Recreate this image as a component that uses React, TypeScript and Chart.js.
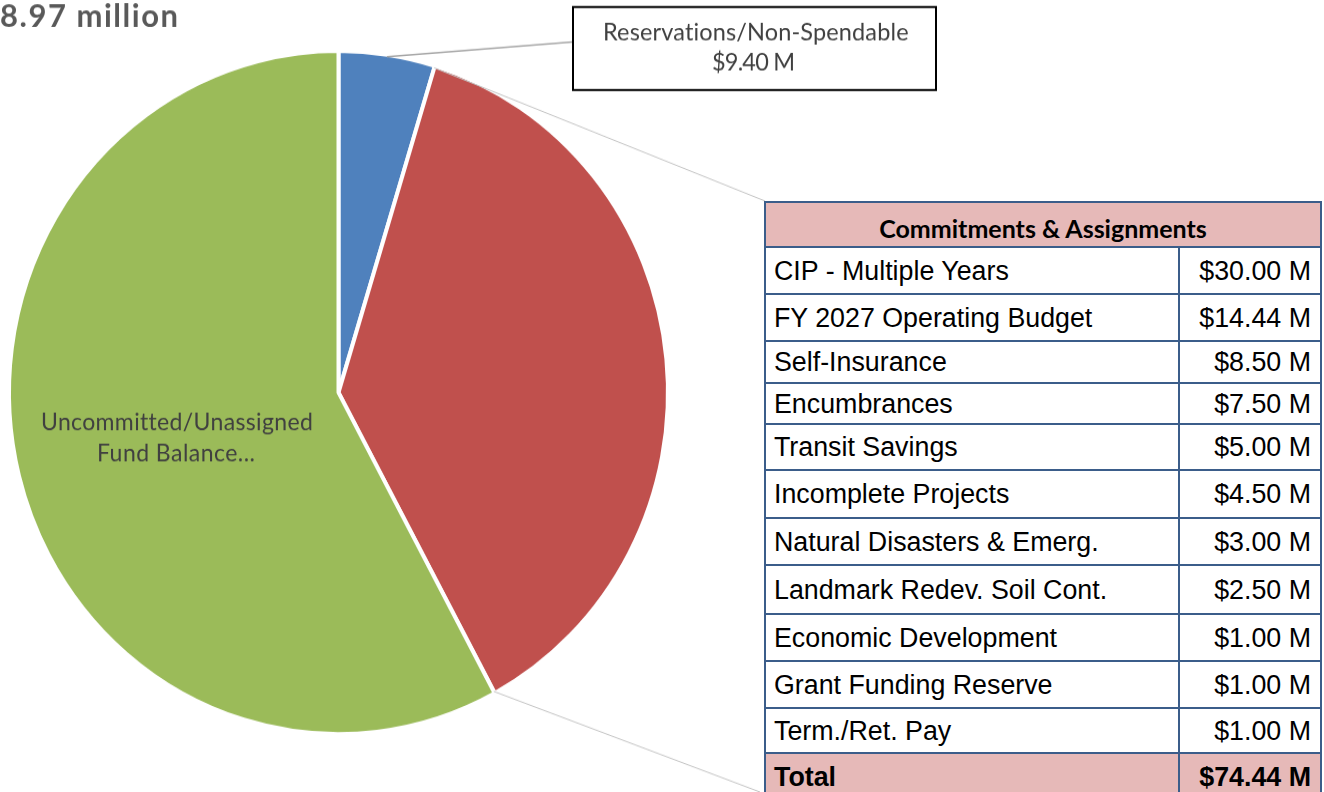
import React, { useEffect, useRef } from "react";
import { Chart, registerables } from "chart.js";

Chart.register(...registerables);

// ---------- data ----------
const sliceLabels = [
  "Reservations/Non-Spendable",
  "Commitments & Assignments",
  "Uncommitted/Unassigned Fund Balance",
];
const sliceValues = [9.4, 74.44, 115.13];
const sliceColors = ["#4F81BD", "#C0504D", "#9BBB59"];

const titleText = "8.97 million";
const reserveLabel = "Reservations/Non-Spendable";
const reserveValueText = "$9.40 M";
const greenLabelLines = ["Uncommitted/Unassigned", "Fund Balance..."];

const tableTitle = "Commitments & Assignments";
const itemNames = [
  "CIP - Multiple Years",
  "FY 2027 Operating Budget",
  "Self-Insurance",
  "Encumbrances",
  "Transit Savings",
  "Incomplete Projects",
  "Natural Disasters & Emerg.",
  "Landmark Redev. Soil Cont.",
  "Economic Development",
  "Grant Funding Reserve",
  "Term./Ret. Pay",
];
const itemValues = [30.0, 14.44, 8.5, 7.5, 5.0, 4.5, 3.0, 2.5, 1.0, 1.0, 1.0];
const totalLabel = "Total";
const totalValue = 74.44;

// ---------- layout ----------
const W = 1324;
const H_PAGE = 792;
const H_CANVAS = 764;
const SY = H_PAGE / H_CANVAS; // vertical stretch of the picture
const PIE_CX = 338.5;
const PIE_CY_PAGE = 392.5;
const PIE_R = 327.5;
const BW = 4;

const TABLE_X = 765;
const TABLE_W = 556;
const DIVIDER_X = 1178;
const ROW_EDGES = [202, 247, 294, 341, 383, 424, 470, 518, 565, 614, 661, 708, 753, 800];
const BORDER = "#3B5D8A";
const PINK = "#E6B9B8";

const fmt = (v: number) => `$${v.toFixed(2)} M`;
const cy = (pageY: number) => pageY / SY;

function drawFitted(
  ctx: CanvasRenderingContext2D,
  text: string,
  left: number,
  baselinePage: number,
  width: number,
  font: string,
  color: string
) {
  const c = ctx as any;
  ctx.font = font;
  ctx.fillStyle = color;
  ctx.textAlign = "left";
  ctx.textBaseline = "alphabetic";
  c.letterSpacing = "0px";
  const m = ctx.measureText(text).width;
  const ls = text.length > 1 ? (width - m) / (text.length - 1) : 0;
  c.letterSpacing = `${ls}px`;
  ctx.fillText(text, left, cy(baselinePage));
  c.letterSpacing = "0px";
}

const overlayPlugin = {
  id: "overlay",
  afterDraw(chart: any) {
    const ctx: CanvasRenderingContext2D = chart.ctx;
    const arcs = chart.getDatasetMeta(0).data;
    const edge = (arc: any, angle: number) => {
      const p = arc.getProps(["x", "y", "outerRadius"], true);
      const r = p.outerRadius - BW / 2;
      return [p.x + r * Math.cos(angle), p.y + r * Math.sin(angle)];
    };
    const blue = arcs[0].getProps(["startAngle", "endAngle"], true);
    const red = arcs[1].getProps(["startAngle", "endAngle"], true);

    ctx.save();
    // leader for the reservations slice
    const [bx, by] = edge(arcs[0], (blue.startAngle + blue.endAngle) / 2);
    ctx.strokeStyle = "#A6A6A6";
    ctx.lineWidth = 1.6;
    ctx.beginPath();
    ctx.moveTo(bx, by);
    ctx.lineTo(572, cy(42));
    ctx.stroke();

    // connectors from the commitments slice to the table
    ctx.strokeStyle = "#C4C4C4";
    ctx.lineWidth = 1;
    const [ax, ay] = edge(arcs[1], red.startAngle);
    const [ex, ey] = edge(arcs[1], red.endAngle);
    ctx.beginPath();
    ctx.moveTo(ax, ay);
    ctx.lineTo(TABLE_X, cy(201));
    ctx.moveTo(ex, ey);
    ctx.lineTo(TABLE_X - 5, cy(792));
    ctx.stroke();

    // callout box
    ctx.strokeStyle = "#000000";
    ctx.lineWidth = 2;
    ctx.strokeRect(573, cy(7), 363, cy(90) - cy(7));

    drawFitted(ctx, reserveLabel, 603, 40, 306, "23.5px Lato", "#404040");
    drawFitted(ctx, reserveValueText, 712, 71, 83, "23.5px Lato", "#404040");

    // in-slice label
    drawFitted(ctx, greenLabelLines[0], 41, 430.5, 271, "23px Lato", "#404040");
    drawFitted(ctx, greenLabelLines[1], 97, 461.5, 158, "23px Lato", "#404040");

    // title (cropped in the source)
    drawFitted(ctx, titleText, 0, 27, 178, "bold 31px Lato", "#595959");
    ctx.restore();
  },
};

function PieCanvas() {
  const ref = useRef<HTMLCanvasElement | null>(null);
  useEffect(() => {
    if (!ref.current) return;
    const chart = new Chart(ref.current, {
      type: "pie",
      data: {
        labels: sliceLabels,
        datasets: [
          {
            data: sliceValues,
            backgroundColor: sliceColors,
            borderColor: "#FFFFFF",
            borderWidth: BW,
            hoverOffset: 0,
            offset: 0,
          } as any,
        ],
      },
      options: {
        responsive: false,
        animation: false,
        devicePixelRatio: 1,
        events: [],
        radius: PIE_R + BW / 2,
        layout: {
          padding: {
            left: 0,
            top: 0,
            right: W - 2 * PIE_CX,
            bottom: H_CANVAS - 2 * cy(PIE_CY_PAGE),
          },
        },
        plugins: {
          legend: { display: false },
          tooltip: { enabled: false },
          title: { display: false },
        },
      } as any,
      plugins: [overlayPlugin],
    });
    return () => chart.destroy();
  }, []);
  return (
    <canvas
      ref={ref}
      width={W}
      height={H_CANVAS}
      style={{
        position: "absolute",
        left: 0,
        top: 0,
        width: `${W}px`,
        height: `${H_CANVAS}px`,
        transform: `scaleY(${SY})`,
        transformOrigin: "0 0",
      }}
    />
  );
}

function Table() {
  const rows: { label: string; value: string; kind: "header" | "item" | "total" }[] = [
    { label: tableTitle, value: "", kind: "header" },
    ...itemNames.map((n, i) => ({ label: n, value: fmt(itemValues[i]), kind: "item" as const })),
    { label: totalLabel, value: fmt(totalValue), kind: "total" },
  ];
  const arial = '"Liberation Sans", Arial, sans-serif';
  return (
    <>
      {rows.map((r, i) => {
        const top = ROW_EDGES[i];
        const h = ROW_EDGES[i + 1] - top;
        const bg = r.kind === "item" ? "#FFFFFF" : PINK;
        return (
          <div
            key={i}
            style={{
              position: "absolute",
              left: TABLE_X - 1,
              top: top - 1,
              width: TABLE_W + 2,
              height: h + 1,
              boxSizing: "border-box",
              background: bg,
              borderTop: `2px solid ${BORDER}`,
              borderLeft: `2px solid ${BORDER}`,
              borderRight: `2px solid ${BORDER}`,
              color: "#000",
            }}
          >
            {r.kind === "header" ? (
              <div
                style={{
                  position: "absolute",
                  left: 0,
                  right: 0,
                  top: 0,
                  bottom: 0,
                  display: "flex",
                  alignItems: "center",
                  justifyContent: "center",
                  fontFamily: "Lato, sans-serif",
                  fontWeight: 700,
                  fontSize: "25px",
                  paddingTop: "6px",
                }}
              >
                {r.label}
              </div>
            ) : (
              <>
                <div
                  style={{
                    position: "absolute",
                    left: DIVIDER_X - TABLE_X - 1,
                    top: 0,
                    bottom: 0,
                    width: 2,
                    background: BORDER,
                  }}
                />
                <div
                  style={{
                    position: "absolute",
                    left: 8,
                    top: 0,
                    bottom: 0,
                    display: "flex",
                    alignItems: "center",
                    fontFamily: arial,
                    fontSize: "26.8px",
                    fontWeight: r.kind === "total" ? 700 : 400,
                    whiteSpace: "nowrap",
                  }}
                >
                  {r.label}
                </div>
                <div
                  style={{
                    position: "absolute",
                    right: 9,
                    top: 0,
                    bottom: 0,
                    display: "flex",
                    alignItems: "center",
                    fontFamily: arial,
                    fontSize: "26.8px",
                    fontWeight: r.kind === "total" ? 700 : 400,
                    whiteSpace: "nowrap",
                  }}
                >
                  {r.value}
                </div>
              </>
            )}
          </div>
        );
      })}
    </>
  );
}

export default function App() {
  return (
    <div
      style={{
        position: "fixed",
        left: 0,
        top: 0,
        width: W,
        height: H_PAGE,
        overflow: "hidden",
        background: "#FFFFFF",
      }}
    >
      <PieCanvas />
      <Table />
    </div>
  );
}
